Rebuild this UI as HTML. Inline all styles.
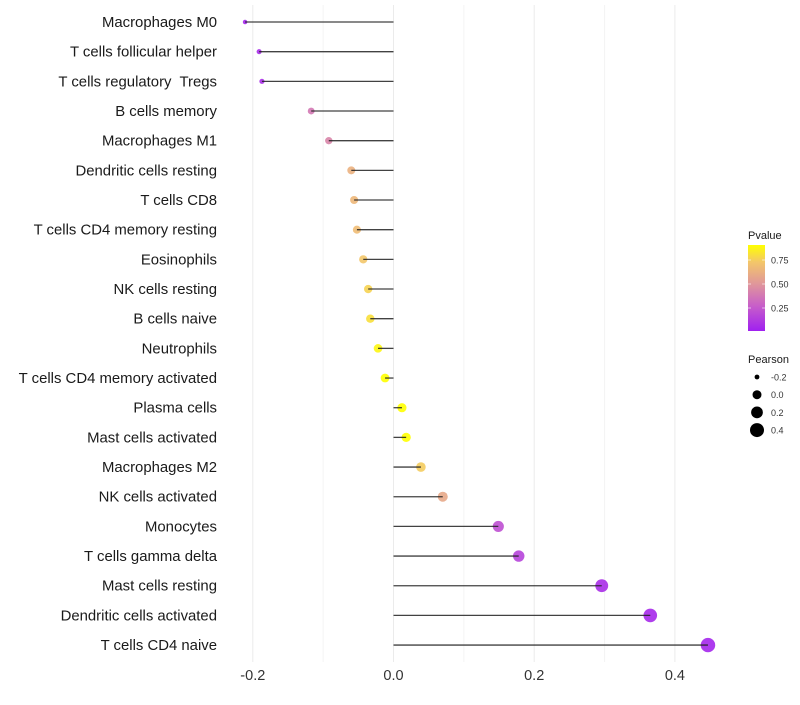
<!DOCTYPE html>
<html><head><meta charset="utf-8"><style>
body{margin:0;background:#fff}
svg{font-family:"Liberation Sans",sans-serif}
text{white-space:pre}
</style></head><body>
<svg id="chart" width="800" height="700">
<defs><linearGradient id="pg" x1="0" y1="1" x2="0" y2="0">
<stop offset="0" stop-color="#a020f0"/><stop offset="0.3" stop-color="#c860c8"/><stop offset="0.55" stop-color="#e0979a"/><stop offset="0.8" stop-color="#f3c66a"/><stop offset="1" stop-color="#ffff00"/>
</linearGradient></defs>
</svg>
<script>
const categories=["Macrophages M0","T cells follicular helper","T cells regulatory  Tregs","B cells memory","Macrophages M1","Dendritic cells resting","T cells CD8","T cells CD4 memory resting","Eosinophils","NK cells resting","B cells naive","Neutrophils","T cells CD4 memory activated","Plasma cells","Mast cells activated","Macrophages M2","NK cells activated","Monocytes","T cells gamma delta","Mast cells resting","Dendritic cells activated","T cells CD4 naive"];
const pearson=[-0.211,-0.191,-0.187,-0.117,-0.092,-0.060,-0.056,-0.052,-0.043,-0.036,-0.033,-0.022,-0.012,0.012,0.018,0.039,0.070,0.149,0.178,0.296,0.365,0.447];
const pvalue=[0.03,0.05,0.06,0.37,0.42,0.62,0.65,0.67,0.72,0.76,0.8,0.87,0.92,0.92,0.9,0.74,0.58,0.2,0.15,0.06,0.04,0.03];
const xTicks=[-0.2,0.0,0.2,0.4];
const xMinor=[-0.1,0.1,0.3];
const pTicks=[0.25,0.5,0.75];
const sizeTicks=[-0.2,0.0,0.2,0.4];
const NS="http://www.w3.org/2000/svg";
const svg=document.getElementById('chart');
const x=v=>393.5+v*703.5;
const y=i=>22+i*29.67;
const r=v=>Math.sqrt(Math.max(3,5+72*(v+0.211)));
const stops=[[0,[160,32,240]],[0.3,[200,96,200]],[0.55,[224,151,154]],[0.8,[243,198,106]],[1,[255,255,0]]];
function col(p){p=Math.max(0,Math.min(1,p/0.9));for(let k=1;k<stops.length;k++){if(p<=stops[k][0]){const a=stops[k-1],b=stops[k];const t=(p-a[0])/(b[0]-a[0]);return 'rgb('+a[1].map((c,j)=>Math.round(c+(b[1][j]-c)*t)).join(',')+')';}}return 'rgb(255,255,0)';}
function mk(tag,at,txt){const e=document.createElementNS(NS,tag);for(const k in at)e.setAttribute(k,at[k]);if(txt!=null)e.textContent=txt;svg.appendChild(e);return e;}
xMinor.forEach(v=>{const l=mk('line',{x1:x(v),x2:x(v),y1:5,y2:662,stroke:'#f4f4f4','stroke-width':1});

});
xTicks.forEach(v=>{const l=mk('line',{x1:x(v),x2:x(v),y1:5,y2:662,stroke:'#ebebeb','stroke-width':1});


const t=mk('text',{x:x(v),y:680,'text-anchor':'middle','font-size':14.5,fill:'#333'},v.toFixed(1));

});
categories.forEach((c,i)=>{
const t=mk('text',{x:217,y:y(i)+5,'text-anchor':'end','font-size':14.9,fill:'#1a1a1a'},c);


const p=mk('circle',{cx:x(pearson[i]),cy:y(i),r:r(pearson[i]),fill:col(pvalue[i]),opacity:0.9});


const l=mk('line',{x1:x(0),x2:x(pearson[i]),y1:y(i),y2:y(i),stroke:'#222','stroke-width':1.3,opacity:0.85});


});
let e=mk('text',{x:748,y:239,'font-size':11,fill:'#1a1a1a'},'Pvalue');


e=mk('rect',{x:748,y:245,width:17,height:86,fill:'url(#pg)'});


pTicks.forEach(v=>{const yy=308-(v-0.25)*96;
const t=mk('text',{x:771,y:yy+3.5,'font-size':9,fill:'#333'},v.toFixed(2));


mk('line',{x1:748,x2:751,y1:yy,y2:yy,stroke:'#fff','stroke-width':0.6});mk('line',{x1:762,x2:765,y1:yy,y2:yy,stroke:'#fff','stroke-width':0.6});});
e=mk('text',{x:748,y:363,'font-size':11,fill:'#1a1a1a'},'Pearson');


sizeTicks.forEach((v,k)=>{const yy=377+k*17.7;
const c=mk('circle',{cx:757,cy:yy,r:r(v),fill:'#000'});


const t=mk('text',{x:771,y:yy+3.5,'font-size':9,fill:'#333'},v.toFixed(1));

});
</script>
</body></html>
